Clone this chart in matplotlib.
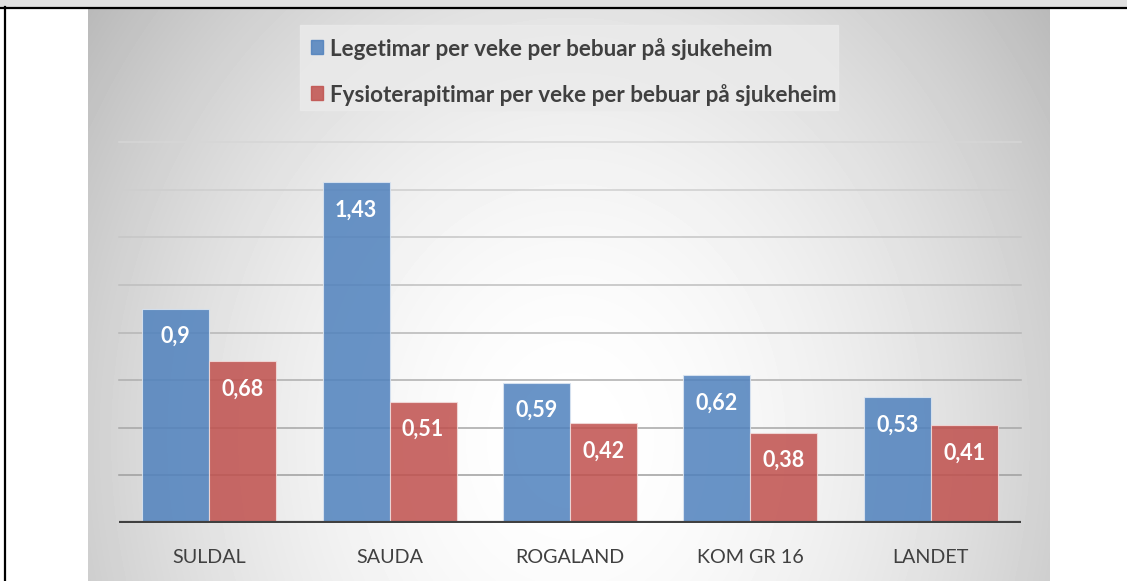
import numpy as np
import matplotlib.pyplot as plt
from matplotlib.patches import Rectangle
from matplotlib.lines import Line2D

plt.rcParams['font.family'] = ['Lato', 'DejaVu Sans']

categories = ['SULDAL', 'SAUDA', 'ROGALAND', 'KOM GR 16', 'LANDET']
lege = [0.9, 1.43, 0.59, 0.62, 0.53]
fysio = [0.68, 0.51, 0.42, 0.38, 0.41]
series_names = ['Legetimar per veke per bebuar på sjukeheim',
                'Fysioterapitimar per veke per bebuar på sjukeheim']
y_ticks = [0.2, 0.4, 0.6, 0.8, 1.0, 1.2, 1.4, 1.6]

W, H = 1127, 581
blue = '#4f81bd'
red = '#c0504d'
txt = '#404040'


def rect(x0, y0, x1, y1):
    # pixel box (top-left origin) -> figure fraction
    return [x0 / W, 1 - y1 / H, (x1 - x0) / W, (y1 - y0) / H]


fig = plt.figure(figsize=(W / 100, H / 100), dpi=100)

# table cell frame
fig.patches.append(Rectangle((0, 1 - 7 / H), 1, 7 / H, transform=fig.transFigure,
                             color='#e0e0e0', zorder=0))
fig.add_artist(Line2D([0, 1], [1 - 7.5 / H] * 2, color='black', lw=1.6))
fig.add_artist(Line2D([5 / W] * 2, [0, 1 - 7 / H], color='black', lw=1.6))

# chart area with radial gradient
bg = fig.add_axes(rect(88, 9, 1050, 581))
xx, yy = np.meshgrid(np.arange(88, 1050), np.arange(9, 581))
d = np.sqrt(((xx - 570) / 520) ** 2 + ((yy - 440) / 620) ** 2)
shade = 1 - 0.21 * np.clip(d, 0, 1.2) ** 1.8
bg.imshow(shade, cmap='gray', vmin=0, vmax=1, aspect='auto', interpolation='bilinear')
bg.axis('off')

# main axes
ax = fig.add_axes(rect(119, 142, 1021, 523))
ax.patch.set_alpha(0)
ax.set_xlim(-0.5, 4.5)
ax.set_ylim(0, 1.6)
for s in ax.spines.values():
    s.set_visible(False)
ax.set_yticks([])

grid_cols = np.linspace(0.62, 0.84, len(y_ticks))
for yv, c in zip(y_ticks, grid_cols):
    ax.axhline(yv, color=str(c), lw=1.1, zorder=1, clip_on=False)

x = np.arange(len(categories))
w = 0.371
b1 = ax.bar(x - w / 2, lege, w, color=blue, alpha=0.85, edgecolor='#dce6f2',
            linewidth=0.8, zorder=2)
b2 = ax.bar(x + w / 2, fysio, w, color=red, alpha=0.85, edgecolor='#f2dcdb',
            linewidth=0.8, zorder=2)
ax.axhline(0, color='#404040', lw=3, zorder=4)

for bars, vals in ((b1, lege), (b2, fysio)):
    for bar, v in zip(bars, vals):
        ax.annotate(str(v).replace('.', ','), (bar.get_x() + bar.get_width() / 2, v),
                    xytext=(0, -28), textcoords='offset pixels', ha='center',
                    va='center', color='white', fontsize=15.5, fontweight='bold',
                    zorder=5)

ax.set_xticks(x, categories)
ax.tick_params(axis='x', length=0, pad=18.5, labelsize=14.2, labelcolor=txt)

# legend
fig.patches.append(Rectangle((300 / W, 1 - 110 / H), 538 / W, 85 / H,
                             transform=fig.transFigure, color='#ebebeb', alpha=0.8,
                             zorder=1))
for (yc, col, name) in ((47, blue, series_names[0]), (93, red, series_names[1])):
    fig.patches.append(Rectangle((311 / W, 1 - (yc + 7) / H), 12 / W, 14 / H,
                                 transform=fig.transFigure, color=col, alpha=0.85,
                                 zorder=2))
    fig.text(330 / W, 1 - yc / H, name, ha='left', va='center_baseline',
             fontsize=16.2, fontweight='bold', color=txt, zorder=3)

fig.savefig('out.png', dpi=100)
